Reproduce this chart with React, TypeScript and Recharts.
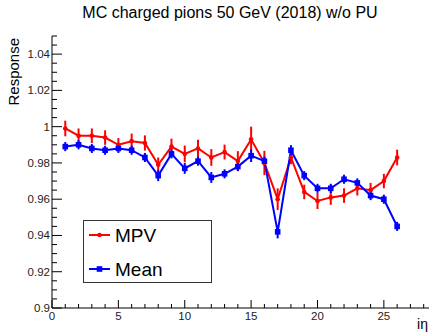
import React from "react";
import {
  ComposedChart,
  Line,
  XAxis,
  YAxis,
  ErrorBar,
} from "recharts";

// Response vs. i-eta for 50 GeV charged pions, no pile-up
const etaBins = [1, 2, 3, 4, 5, 6, 7, 8, 9, 10, 11, 12, 13, 14, 15, 16, 17, 18, 19, 20, 21, 22, 23, 24, 25, 26];
const mpvValues = [0.999, 0.995, 0.995, 0.994, 0.99, 0.992, 0.991, 0.979, 0.989, 0.985, 0.988, 0.983, 0.986, 0.981, 0.993, 0.98, 0.96, 0.983, 0.964, 0.959, 0.961, 0.962, 0.966, 0.965, 0.97, 0.983];
const mpvErrors = [0.0043, 0.004, 0.004, 0.004, 0.0037, 0.0042, 0.0042, 0.004, 0.0044, 0.0046, 0.0048, 0.0046, 0.0041, 0.0055, 0.007, 0.0067, 0.006, 0.0037, 0.004, 0.0044, 0.0041, 0.004, 0.004, 0.004, 0.004, 0.0043];
const meanValues = [0.989, 0.99, 0.988, 0.987, 0.988, 0.987, 0.983, 0.973, 0.985, 0.977, 0.981, 0.972, 0.974, 0.978, 0.984, 0.981, 0.942, 0.987, 0.973, 0.966, 0.966, 0.971, 0.969, 0.962, 0.96, 0.945];
const meanErrors = [0.0025, 0.0025, 0.0025, 0.0025, 0.0025, 0.0025, 0.0025, 0.003, 0.0025, 0.003, 0.0025, 0.003, 0.0025, 0.0025, 0.0035, 0.0025, 0.0036, 0.0028, 0.0025, 0.0025, 0.0025, 0.0025, 0.0025, 0.0025, 0.0025, 0.0025];

const xMajorTicks = [0, 5, 10, 15, 20, 25];
const yMajorTicks = [0.9, 0.92, 0.94, 0.96, 0.98, 1, 1.02, 1.04];
const seriesNames = ["MPV", "Mean"];

const X_MAX = 28.4;
const Y_MIN = 0.9;
const Y_MAX = 1.05;

// minor tick grid: every unit in eta, every 0.005 in response
const xAllTicks: number[] = [];
for (let i = 0; i <= 28; i++) xAllTicks.push(i);
const yAllTicks: number[] = [];
for (let i = 0; i <= 30; i++) yAllTicks.push(Math.round((Y_MIN + i * 0.005) * 1000) / 1000);

const isMajor = (v: number, list: number[]) => list.some((m) => Math.abs(m - v) < 1e-6);

const data = etaBins.map((eta, i) => ({
  eta,
  mpv: mpvValues[i],
  mpvErr: mpvErrors[i],
  mean: meanValues[i],
  meanErr: meanErrors[i],
}));

const FONT = "'Liberation Sans', Arial, Helvetica, sans-serif";
const RED = "#ff0000";
const BLUE = "#0000ff";

const BottomTick = (props: any) => {
  const { x, y, payload } = props;
  const major = isMajor(payload.value, xMajorTicks);
  return (
    <g>
      <line x1={x} x2={x} y1={y} y2={y - (major ? 8 : 4)} stroke="#000" strokeWidth={1} />
      {major && (
        <text x={x} y={y + 11.5} textAnchor="middle" fontSize={11.5} fontFamily={FONT} fill="#222">
          {payload.value}
        </text>
      )}
    </g>
  );
};

const TopTick = (props: any) => {
  const { x, y, payload } = props;
  const major = isMajor(payload.value, xMajorTicks);
  return <line x1={x} x2={x} y1={y} y2={y + (major ? 9 : 5)} stroke="#000" strokeWidth={1} />;
};

const LeftTick = (props: any) => {
  const { x, y, payload } = props;
  const major = isMajor(payload.value, yMajorTicks);
  return (
    <g>
      <line x1={x} x2={x + (major ? 10 : 5)} y1={y} y2={y} stroke="#000" strokeWidth={1} />
      {major && (
        <text x={x - 2} y={y + 4} textAnchor="end" fontSize={11.5} fontFamily={FONT} fill="#222">
          {String(Number(payload.value.toFixed(2)))}
        </text>
      )}
    </g>
  );
};

const RightTick = (props: any) => {
  const { x, y, payload } = props;
  const major = isMajor(payload.value, yMajorTicks);
  return <line x1={x} x2={x - (major ? 10 : 5)} y1={y} y2={y} stroke="#000" strokeWidth={1} />;
};

const CircleDot = (props: any) => {
  const { cx, cy, index } = props;
  if (cx == null || cy == null) return <g key={`c${index}`} />;
  return <circle key={`c${index}`} cx={cx} cy={cy} r={2.3} fill={RED} />;
};

const SquareDot = (props: any) => {
  const { cx, cy, index } = props;
  if (cx == null || cy == null) return <g key={`s${index}`} />;
  return <rect key={`s${index}`} x={cx - 2.8} y={cy - 2.8} width={5.6} height={5.6} fill={BLUE} />;
};

export default function App() {
  return (
    <div style={{ position: "absolute", left: 0, top: 0, width: 430, height: 334, background: "#fff" }}>
      <ComposedChart
        width={430}
        height={334}
        data={data}
        margin={{ top: 36, right: 1, bottom: 0, left: 0 }}
      >
        <XAxis
          xAxisId="bottom"
          dataKey="eta"
          type="number"
          domain={[0, X_MAX]}
          ticks={xAllTicks}
          interval={0}
          tickSize={0}
          tickMargin={0}
          tickLine={false}
          axisLine={{ stroke: "#000", strokeWidth: 1 }}
          tick={<BottomTick />}
          height={26}
          allowDataOverflow
          label={{
            value: "iη",
            position: "insideBottomRight",
            content: () => (
              <text x={428} y={329} textAnchor="end" fontSize={14} fontFamily={FONT} fill="#000">
                iη
              </text>
            ),
          }}
        />
        <XAxis
          xAxisId="top"
          orientation="top"
          dataKey="eta"
          type="number"
          domain={[0, X_MAX]}
          ticks={xAllTicks}
          interval={0}
          tickSize={0}
          tickMargin={0}
          tickLine={false}
          axisLine={{ stroke: "#000", strokeWidth: 1 }}
          tick={<TopTick />}
          height={0}
          allowDataOverflow
        />
        <YAxis
          yAxisId="left"
          type="number"
          domain={[Y_MIN, Y_MAX]}
          ticks={yAllTicks}
          interval={0}
          tickSize={0}
          tickMargin={0}
          tickLine={false}
          axisLine={{ stroke: "#000", strokeWidth: 1 }}
          tick={<LeftTick />}
          width={52}
          allowDataOverflow
          label={{
            value: "Response",
            content: () => (
              <text
                x={19}
                y={38}
                transform="rotate(-90 19 38)"
                textAnchor="end"
                fontSize={15}
                fontFamily={FONT}
                fill="#000"
              >
                Response
              </text>
            ),
          }}
        />
        <YAxis
          yAxisId="right"
          orientation="right"
          type="number"
          domain={[Y_MIN, Y_MAX]}
          ticks={yAllTicks}
          interval={0}
          tickSize={0}
          tickMargin={0}
          tickLine={false}
          axisLine={{ stroke: "#000", strokeWidth: 1 }}
          tick={<RightTick />}
          width={0}
          allowDataOverflow
        />
        <Line
          xAxisId="bottom"
          yAxisId="left"
          dataKey="mpv"
          name={seriesNames[0]}
          stroke={RED}
          strokeWidth={2}
          dot={<CircleDot />}
          activeDot={false}
          isAnimationActive={false}
          type="linear"
        >
          <ErrorBar dataKey="mpvErr" direction="y" width={0} stroke={RED} strokeWidth={2} isAnimationActive={false} />
        </Line>
        <Line
          xAxisId="bottom"
          yAxisId="left"
          dataKey="mean"
          name={seriesNames[1]}
          stroke={BLUE}
          strokeWidth={2}
          dot={<SquareDot />}
          activeDot={false}
          isAnimationActive={false}
          type="linear"
        >
          <ErrorBar dataKey="meanErr" direction="y" width={0} stroke={BLUE} strokeWidth={2} isAnimationActive={false} />
        </Line>
      </ComposedChart>

      {/* title */}
      <div
        style={{
          position: "absolute",
          left: 0,
          top: 4,
          width: 460,
          textAlign: "center",
          fontFamily: FONT,
          fontSize: 16,
          color: "#000",
          whiteSpace: "nowrap",
        }}
      >
        MC charged pions 50 GeV (2018) w/o PU
      </div>

      {/* legend box */}
      <svg
        width={130}
        height={64}
        style={{ position: "absolute", left: 83, top: 220 }}
      >
        <rect x={0.5} y={0.5} width={128} height={62} fill="#fff" stroke="#333" strokeWidth={1} />
        <line x1={6} x2={27} y1={15} y2={15} stroke={RED} strokeWidth={2} />
        <circle cx={16.5} cy={15} r={2.3} fill={RED} />
        <text x={32} y={22} fontSize={19} fontFamily={FONT} fill="#000">
          {seriesNames[0]}
        </text>
        <line x1={6} x2={27} y1={49} y2={49} stroke={BLUE} strokeWidth={2} />
        <rect x={13.7} y={46.2} width={5.6} height={5.6} fill={BLUE} />
        <text x={32} y={56} fontSize={19} fontFamily={FONT} fill="#000">
          {seriesNames[1]}
        </text>
      </svg>
    </div>
  );
}
